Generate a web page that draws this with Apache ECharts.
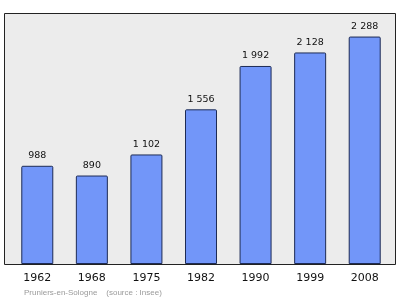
<!DOCTYPE html>
<html><head><meta charset="utf-8">
<script src="https://cdn.jsdelivr.net/npm/echarts@6/dist/echarts.min.js"></script>
<style>html,body{margin:0;padding:0;background:#fff}#c{width:400px;height:299px}</style>
</head><body><div id="c"></div>
<script>
var years = ['1962','1968','1975','1982','1990','1999','2008'];
var population = [988, 890, 1102, 1556, 1992, 2128, 2288];
var footer = 'Pruniers-en-Sologne    (source : Insee)';

function fmt(v){ return String(v).replace(/\B(?=(\d{3})+(?!\d))/g, ' '); }

var chart = echarts.init(document.getElementById('c'), null, {renderer:'canvas'});
chart.setOption({
  animation:false,
  graphic:[
    {type:'rect', shape:{x:4.5, y:13.5, width:391, height:251}, z:-10,
     style:{fill:'#ececec', stroke:'#222', lineWidth:1}},
    {type:'text', left:24, top:289, style:{text:footer, fill:'#9a9a9a', font:'8px "Liberation Sans"'}}
  ],
  grid:{left:10, right:8, top:13, bottom:35},
  xAxis:{type:'category', data:years,
    axisLine:{show:false}, axisTick:{show:false},
    axisLabel:{color:'#111', fontSize:11, fontFamily:'DejaVu Sans', margin:9}},
  yAxis:{type:'value', min:0, max:2525, show:false, splitLine:{show:false}},
  series:[{type:'bar', data:population, barWidth:32,
    itemStyle:{color:'#7296f9', borderColor:'#1d2b55', borderWidth:1, borderRadius:[1,1,0,0]},
    label:{show:true, position:'top', distance:5, color:'#111', fontSize:9.5, fontFamily:'DejaVu Sans',
      formatter:function(p){return fmt(p.value);}}}]
});
</script></body></html>
